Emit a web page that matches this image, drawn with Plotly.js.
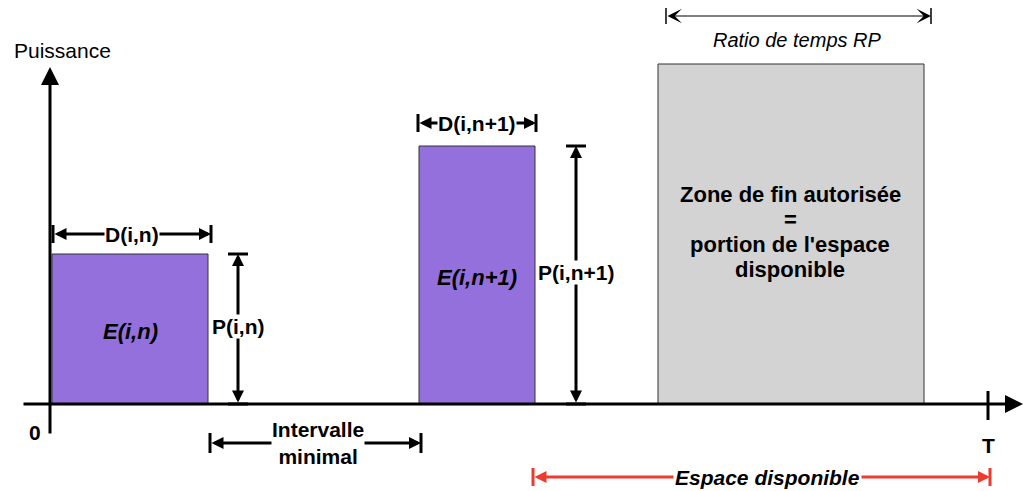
<!DOCTYPE html>
<html>
<head>
<meta charset="utf-8">
<script src="https://cdn.plot.ly/plotly-3.0.1.min.js"></script>
<style>html,body{margin:0;padding:0;background:#fff;}#chart{width:1023px;height:491px;}</style>
</head>
<body>
<div id="chart"></div>
<script>
// ---- data (time units along x, power units along y) ----
const blockNames = ['E(i,n)', 'E(i,n+1)', ''];
const zoneLines = ['Zone de fin autorisée', '=', "portion de l'espace", 'disponible'];
const blockStart = [2, 369, 608];
const blockEnd = [158, 485, 874];
const blockPower = [150, 258, 340];
const durationLabels = ['D(i,n)', 'D(i,n+1)'];
const powerLabels = ['P(i,n)', 'P(i,n+1)'];
const horizonT = 938;
const ratioStart = 616;
const ratioEnd = 881;
const yAxisLabel = 'Puissance';
const originLabel = '0';
const horizonLabel = 'T';
const intervalLabel = 'Intervalle<br>minimal';
const spaceLabel = 'Espace disponible';
const ratioLabel = 'Ratio de temps RP';

// ---- drawing ----
const FONT = 'Liberation Sans, Arial, sans-serif';
const BLACK = '#000';
const RED = '#EE3B30';

const bars = {
  type: 'bar',
  x: blockStart.map((s, i) => (s + blockEnd[i]) / 2),
  width: blockStart.map((s, i) => blockEnd[i] - s),
  y: blockPower,
  base: blockPower.map(() => 0),
  marker: {
    color: blockPower.map((_, i) => i < 2 ? '#9370DB' : '#D3D3D3'),
    line: {color: '#333', width: 1}
  },
  hoverinfo: 'skip',
  showlegend: false
};

const shapes = [];
const annotations = [];

function arrow(x0, y0, x1, y1, opts) {
  annotations.push(Object.assign({
    x: x1, y: y1, ax: x0, ay: y0, xref: 'x', yref: 'y', axref: 'x', ayref: 'y',
    text: '', showarrow: true, arrowside: 'end+start', arrowhead: 2, startarrowhead: 2,
    arrowwidth: 3, arrowsize: 0.9, startarrowsize: 0.9, arrowcolor: BLACK,
    standoff: 0, startstandoff: 0
  }, opts || {}));
}
function seg(x0, y0, x1, y1, color, w) {
  shapes.push({type: 'line', xref: 'x', yref: 'y', x0: x0, y0: y0, x1: x1, y1: y1,
    line: {color: color || BLACK, width: w || 3}, layer: 'above'});
}
function label(x, y, text, size, opts) {
  annotations.push(Object.assign({
    x: x, y: y, xref: 'x', yref: 'y', text: text, showarrow: false,
    font: {family: FONT, size: size, color: BLACK}
  }, opts || {}));
}

// duration arrows (D) and power arrows (P) for the two consumption blocks
const dOffsets = [[1, 3], [-1, 1]];
const dRise = [20, 23];
const pGap = [30, 41];
for (let i = 0; i < 2; i++) {
  const x0 = blockStart[i] + dOffsets[i][0];
  const x1 = blockEnd[i] + dOffsets[i][1];
  const yd = blockPower[i] + dRise[i];
  arrow(x0, yd, x1, yd, {arrowsize: 0.8, startarrowsize: 0.8});
  seg(x0, yd - 9, x0, yd + 9, BLACK, 3);
  seg(x1, yd - 9, x1, yd + 9, BLACK, 3);
  label((x0 + x1) / 2, yd, '<b>' + durationLabels[i] + '</b>', 21, {bgcolor: '#fff', borderpad: 0});

  const xp = blockEnd[i] + pGap[i];
  arrow(xp, 0, xp, blockPower[i], {arrowsize: 0.8, startarrowsize: 0.8});
  seg(xp - 10, blockPower[i], xp + 10, blockPower[i], BLACK, 3);
  seg(xp - 10, 0, xp + 10, 0, BLACK, 3);
  label(xp, blockPower[i] / 2 + 3, '<b>' + powerLabels[i] + '</b>', 21, {bgcolor: '#fff', borderpad: 0});

  label((blockStart[i] + blockEnd[i]) / 2, blockPower[i] / 2 - 2, '<b><i>' + blockNames[i] + '</i></b>', 22);
}

// zone text, one line at a time
const zx = (blockStart[2] + blockEnd[2]) / 2 - 1;
zoneLines.forEach((t, k) => label(zx, blockPower[2] / 2 + 2 + 37.5 - 25 * k, '<b>' + t + '</b>', 22));

// minimal interval arrow
const yInt = -39;
const xi0 = blockEnd[0] + 2, xi1 = blockStart[1] + 2;
arrow(xi0, yInt, xi1, yInt, {arrowsize: 0.8, startarrowsize: 0.8});
seg(xi0, yInt - 10, xi0, yInt + 10, BLACK, 3);
seg(xi1, yInt - 10, xi1, yInt + 10, BLACK, 3);
label((xi0 + xi1) / 2 + 2, yInt, '<b>' + intervalLabel + '</b>', 21, {bgcolor: '#fff', borderpad: 0});

// available space arrow (red)
const ySp = -73;
const xs0 = blockEnd[1] - 2, xs1 = horizonT + 2;
arrow(xs0, ySp, xs1, ySp, {arrowcolor: RED, arrowsize: 0.8, startarrowsize: 0.8});
seg(xs0, ySp - 9, xs0, ySp + 9, RED, 3);
seg(xs1, ySp - 9, xs1, ySp + 9, RED, 3);
label((xs0 + xs1) / 2 + 6, ySp, '<b><i>' + spaceLabel + '</i></b>', 21, {bgcolor: '#fff', borderpad: 1});

// ratio RP arrow
const yR = 388;
arrow(ratioStart, yR, ratioEnd, yR, {arrowwidth: 1.2, arrowhead: 3, startarrowhead: 3, arrowsize: 2, startarrowsize: 2});
seg(ratioStart, yR - 8, ratioStart, yR + 8, BLACK, 1.5);
seg(ratioEnd, yR - 8, ratioEnd, yR + 8, BLACK, 1.5);
label((ratioStart + ratioEnd) / 2 - 1, 364, '<i>' + ratioLabel + '</i>', 20);

// axes
arrow(0, -31, 0, 337, {arrowside: 'end', arrowsize: 1.2});
arrow(-28, 0, 973, 0, {arrowside: 'end', arrowsize: 1.2});
seg(horizonT, -16, horizonT, 13, BLACK, 3);
label(horizonT, -41, '<b>' + horizonLabel + '</b>', 21);
label(-15, -28, '<b>' + originLabel + '</b>', 21);
label(12, 354, yAxisLabel, 21);

const layout = {
  width: 1023, height: 491,
  margin: {l: 0, r: 0, t: 0, b: 0},
  paper_bgcolor: '#fff', plot_bgcolor: '#fff',
  xaxis: {range: [-50, 973], visible: false, fixedrange: true},
  yaxis: {range: [-87, 404], visible: false, fixedrange: true},
  shapes: shapes,
  annotations: annotations,
  showlegend: false
};

Plotly.newPlot('chart', [bars], layout, {displayModeBar: false, staticPlot: true});
</script>
</body>
</html>
